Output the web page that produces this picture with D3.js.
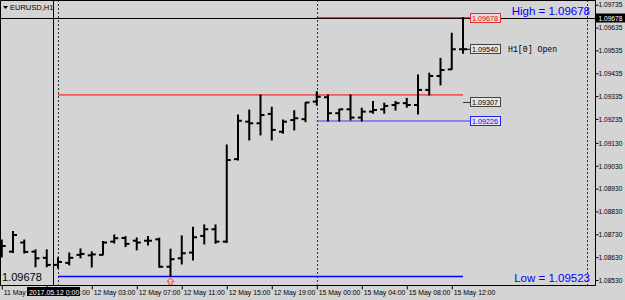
<!DOCTYPE html>
<html>
<head>
<meta charset="utf-8">
<script src="https://d3js.org/d3.v7.min.js"></script>
<style>
  body { margin: 0; background: #d4d4d4; }
  svg { display: block; font-family: "Liberation Sans", Arial, sans-serif; }
  .axis text { font-size: 8px; fill: #000; }
  .axis line { stroke: #000; }
</style>
</head>
<body>
<svg id="chart" width="625" height="300"></svg>
<script>
  // EURUSD H1, 11 May 19:00 .. 15 May 13:00 (42 bars)
  var opens  = [1.08662, 1.08654, 1.08694, 1.08654, 1.08627, 1.08596, 1.08605, 1.08640, 1.08638, 1.08640,
                1.08698, 1.08714, 1.08702, 1.08702, 1.08708, 1.08588, 1.08625, 1.08650, 1.08723, 1.08752,
                1.08698, 1.09059, 1.09223, 1.09216, 1.09257, 1.09179, 1.09230, 1.09234, 1.09311, 1.09330,
                1.09260, 1.09277, 1.09241, 1.09267, 1.09277, 1.09296, 1.09304, 1.09296, 1.09362, 1.09423,
                1.09452, 1.09540];
  var highs  = [1.08705, 1.08742, 1.08705, 1.08662, 1.08662, 1.08627, 1.08648, 1.08666, 1.08653, 1.08698,
                1.08727, 1.08720, 1.08714, 1.08720, 1.08713, 1.08665, 1.08723, 1.08761, 1.08771, 1.08771,
                1.09121, 1.09252, 1.09274, 1.09340, 1.09286, 1.09230, 1.09271, 1.09306, 1.09354, 1.09340,
                1.09277, 1.09340, 1.09282, 1.09311, 1.09304, 1.09311, 1.09325, 1.09427, 1.09435, 1.09500,
                1.09610, 1.09678];
  var lows   = [1.08631, 1.08650, 1.08648, 1.08588, 1.08588, 1.08583, 1.08596, 1.08627, 1.08587, 1.08640,
                1.08692, 1.08676, 1.08662, 1.08683, 1.08586, 1.08545, 1.08600, 1.08618, 1.08688, 1.08691,
                1.08694, 1.09055, 1.09143, 1.09165, 1.09143, 1.09172, 1.09187, 1.09223, 1.09296, 1.09226,
                1.09226, 1.09230, 1.09226, 1.09260, 1.09260, 1.09274, 1.09286, 1.09257, 1.09340, 1.09384,
                1.09452, 1.09523];
  var closes = [1.08679, 1.08727, 1.08653, 1.08625, 1.08596, 1.08609, 1.08627, 1.08644, 1.08642, 1.08694,
                1.08713, 1.08688, 1.08694, 1.08702, 1.08588, 1.08621, 1.08647, 1.08717, 1.08752, 1.08698,
                1.09055, 1.09227, 1.09216, 1.09252, 1.09187, 1.09223, 1.09238, 1.09307, 1.09332, 1.09260,
                1.09277, 1.09241, 1.09267, 1.09274, 1.09292, 1.09304, 1.09296, 1.09362, 1.09423, 1.09449,
                1.09540, 1.09540];

  var timeTickBars = [0, 4, 8, 12, 16, 20, 24, 28, 32, 36, 40];
  var timeTickLabels = ["11 May 19:00", "11 May 23:00", "12 May 03:00", "12 May 07:00", "12 May 11:00",
                        "12 May 15:00", "12 May 19:00", "15 May 00:00", "15 May 04:00", "15 May 08:00",
                        "15 May 12:00"];
  var priceTicks = [1.09735, 1.09635, 1.09535, 1.09435, 1.09335, 1.09235, 1.09130, 1.09030,
                    1.08930, 1.08830, 1.08730, 1.08630, 1.08530];

  var daySeparators = [5, 28];      // 12 May 00:00, 15 May 00:00
  var prevDayStart = 5, curDayStart = 28, lastBar = 41;
  var prevHigh = 1.09340, prevLow = 1.08545, prevClose = 1.09307;
  var curHigh = 1.09678, curLow = 1.09226, curOpen = 1.09540;
  var crossPrice = 1.09678, crossTime = "2017.05.12 0:00";

  var W = 625, H = 300, plotR = 595, plotB = 285;
  var svg = d3.select("#chart");

  var x = d3.scaleLinear().domain([0, 41]).range([1.75, 463]);
  var y = d3.scaleLinear().domain([1.08530, 1.09735]).range([280, 4.7]);
  var fmt = d3.format(".5f");

  function squeeze(sel, k) {
    sel.each(function() {
      var len = this.getComputedTextLength();
      d3.select(this).attr("textLength", len * k).attr("lengthAdjust", "spacingAndGlyphs");
    });
  }

  svg.append("rect").attr("width", W).attr("height", H).attr("fill", "#d4d4d4");

  // separators
  svg.selectAll(".sep")
    .data(daySeparators)
    .enter().append("line")
    .attr("x1", function(d) { return Math.round(x(d)) + 0.5; })
    .attr("x2", function(d) { return Math.round(x(d)) + 0.5; })
    .attr("y1", 0).attr("y2", plotB)
    .attr("stroke", "#333").attr("stroke-dasharray", "2,2");
  svg.append("line")
    .attr("x1", 587.5).attr("x2", 587.5).attr("y1", 0).attr("y2", plotB)
    .attr("stroke", "#333").attr("stroke-dasharray", "2,2");

  // crosshair
  svg.append("line").attr("x1", 0).attr("x2", plotR).attr("y1", Math.round(y(crossPrice)) + 0.5)
    .attr("y2", Math.round(y(crossPrice)) + 0.5).attr("stroke", "#000");
  svg.append("line").attr("x1", 53.5).attr("x2", 53.5).attr("y1", 0).attr("y2", plotB).attr("stroke", "#000");

  // day levels
  function hline(p, b0, x1, color, w) {
    svg.append("line")
      .attr("x1", x(b0)).attr("x2", x1)
      .attr("y1", y(p)).attr("y2", y(p))
      .attr("stroke", color).attr("stroke-width", w);
  }
  hline(prevHigh, prevDayStart, x(lastBar), "#ff0000", 1);
  hline(prevLow, prevDayStart, x(lastBar), "#0000ff", 1.6);
  hline(curHigh, curDayStart, 470, "#ff0000", 1);
  hline(curLow, curDayStart, 470, "#3c3cff", 1.2);
  hline(prevClose, lastBar, 470, "#333", 1);
  hline(curOpen, lastBar, 470, "#000", 1);

  // OHLC bars
  var bars = svg.append("g").attr("stroke", "#000").attr("stroke-width", 2);
  var idx = d3.range(opens.length);
  bars.selectAll(".hl").data(idx).enter().append("line")
    .attr("x1", function(i) { return x(i); }).attr("x2", function(i) { return x(i); })
    .attr("y1", function(i) { return y(highs[i]) - 0.5; })
    .attr("y2", function(i) { return y(lows[i]) + 0.5; });
  bars.selectAll(".op").data(idx).enter().append("line")
    .attr("x1", function(i) { return x(i) - 4; }).attr("x2", function(i) { return x(i); })
    .attr("y1", function(i) { return y(opens[i]); }).attr("y2", function(i) { return y(opens[i]); });
  bars.selectAll(".cl").data(idx).enter().append("line")
    .attr("x1", function(i) { return x(i); }).attr("x2", function(i) { return x(i) + 4; })
    .attr("y1", function(i) { return y(closes[i]); }).attr("y2", function(i) { return y(closes[i]); });

  // low arrow
  var ax = x(15), ay = y(lows[15]) + 5;
  svg.append("path")
    .attr("d", "M" + ax + "," + (ay - 3.5) + "l3.5,3.5h-2v3.5h-3v-3.5h-2z")
    .attr("fill", "none").attr("stroke", "#ff4040").attr("stroke-width", 1);

  // price tags
  function tag(p, stroke, fill, color) {
    var cy = Math.round(y(p));
    svg.append("rect").attr("x", 470.5).attr("y", cy - 4.5).attr("width", 30).attr("height", 9)
      .attr("fill", fill).attr("stroke", stroke);
    svg.append("text").attr("x", 472).attr("y", cy + 3).attr("font-size", "8px").attr("fill", color)
      .text(fmt(p)).call(squeeze, 0.9);
  }
  tag(curHigh, "#e03030", "#f0d8d8", "#d01010");
  tag(curOpen, "#444", "#e4e4e4", "#000");
  tag(prevClose, "#444", "#e4e4e4", "#000");
  tag(curLow, "#2020ff", "#e4e4ee", "#0000ff");

  svg.append("text").attr("x", 508).attr("y", y(curOpen) + 2.5)
    .attr("font-family", "'Liberation Mono', monospace").attr("font-size", "8.2px")
    .text("H1[0] Open");

  svg.append("text").attr("x", 590).attr("y", 14.5).attr("text-anchor", "end")
    .attr("font-size", "11.5px").attr("fill", "#0000ff").text("High = " + fmt(curHigh));
  svg.append("text").attr("x", 590).attr("y", 282).attr("text-anchor", "end")
    .attr("font-size", "11.5px").attr("fill", "#0000ff").text("Low = " + fmt(lows[lastBar]));

  // title
  svg.append("path").attr("d", "M3,6h5l-2.5,3z").attr("fill", "#000");
  svg.append("text").attr("x", 10).attr("y", 10).attr("font-size", "7.5px").text("EURUSD,H1");

  // crosshair price box bottom-left
  svg.append("text").attr("x", 2).attr("y", 281).attr("font-size", "11px").text(fmt(crossPrice));

  // frame
  svg.append("path").attr("d", "M0.5," + (plotB + 0.5) + "V0.5H" + (plotR + 0.5) + "V" + (plotB + 0.5) + "H0.5")
    .attr("fill", "none").attr("stroke", "#000");

  // right price axis
  var yAxis = svg.append("g").attr("class", "axis").attr("transform", "translate(" + (plotR + 0.5) + ",0)")
    .call(d3.axisRight(y).tickValues(priceTicks).tickSize(3).tickPadding(0).tickFormat(fmt));
  yAxis.select(".domain").remove();
  yAxis.selectAll("text").style("font-size", "7px").call(squeeze, 0.94);

  // bottom time axis
  var xAxis = svg.append("g").attr("class", "axis").attr("transform", "translate(0," + (plotB + 0.5) + ")")
    .call(d3.axisBottom(x).tickValues(timeTickBars).tickSize(4).tickPadding(0)
      .tickFormat(function(d, i) { return timeTickLabels[i]; }));
  xAxis.select(".domain").remove();
  xAxis.selectAll("text").attr("text-anchor", "start").attr("x", 1.5).call(squeeze, 0.86);

  // crosshair labels
  var cy = Math.round(y(crossPrice));
  svg.append("rect").attr("x", 596).attr("y", cy - 4.5).attr("width", 29).attr("height", 9).attr("fill", "#000");
  svg.append("text").attr("x", 598.5).attr("y", cy + 2.5).attr("font-size", "7px").attr("fill", "#fff")
    .text(fmt(crossPrice)).call(squeeze, 0.94);
  svg.append("rect").attr("x", 27).attr("y", 287).attr("width", 53).attr("height", 9).attr("fill", "#000");
  svg.append("text").attr("x", 29).attr("y", 294.5).attr("font-size", "8px").attr("fill", "#fff")
    .text(crossTime).call(squeeze, 0.87);
</script>
</body>
</html>
